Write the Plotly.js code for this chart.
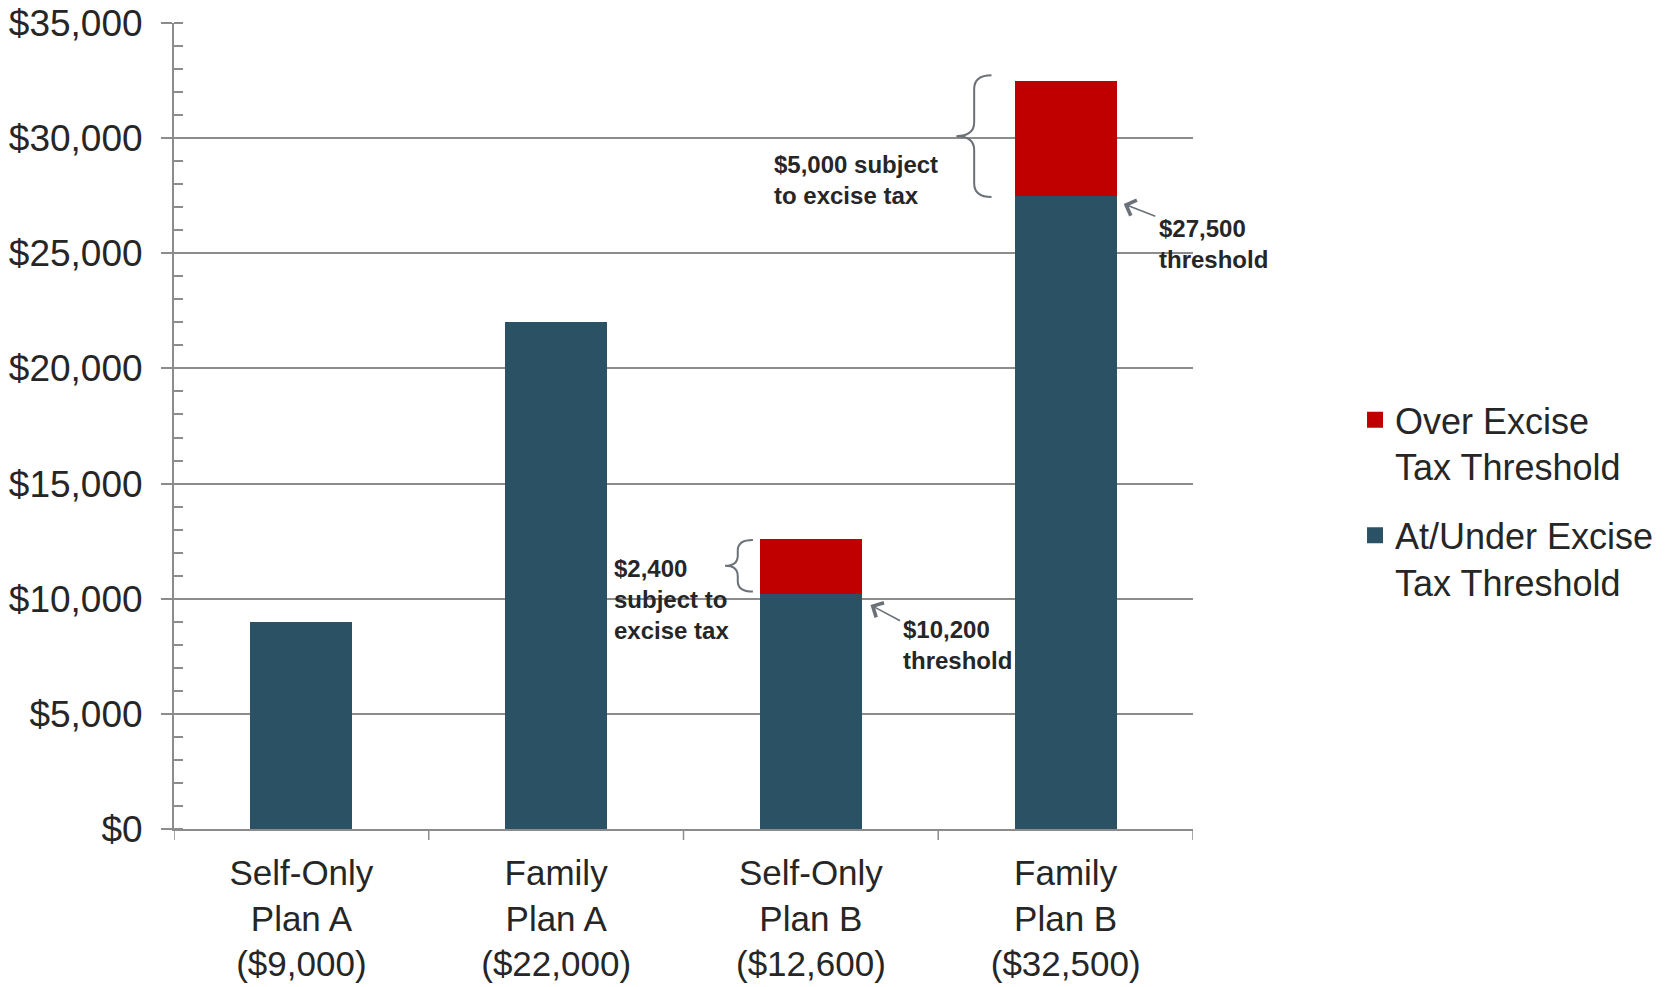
<!DOCTYPE html>
<html>
<head>
<meta charset="utf-8">
<script src="https://cdn.plot.ly/plotly-3.0.1.min.js"></script>
<style>
  html, body { margin: 0; padding: 0; background: #ffffff; }
  #chart { width: 1672px; height: 987px; }
</style>
</head>
<body>
<div id="chart"></div>
<script>
// ---- Data ----
const categories = ['Self-Only Plan A', 'Family Plan A', 'Self-Only Plan B', 'Family Plan B'];
const tickLabels = ['Self-Only<br>Plan A<br>($9,000)', 'Family<br>Plan A<br>($22,000)', 'Self-Only<br>Plan B<br>($12,600)', 'Family<br>Plan B<br>($32,500)'];
const atUnderThreshold = [9000, 22000, 10200, 27500];
const overThreshold = [0, 0, 2400, 5000];
const seriesNames = ['At/Under Excise<br>Tax Threshold', 'Over Excise<br>Tax Threshold'];
const yTickVals = [0, 5000, 10000, 15000, 20000, 25000, 30000, 35000];
const yTickText = yTickVals.map(v => '$' + v.toLocaleString('en-US'));

// ---- Styles ----
const FONT = 'Liberation Sans, Arial, sans-serif';
const TEXT = '#262626';
const GRID = '#8c8c8c';
const TEAL = '#2b5264';
const RED = '#c00000';
const NOTE = '#6b7178';

const idx = categories.map((_, i) => i);

const traces = [
  {
    type: 'bar', name: seriesNames[0], x: idx, y: atUnderThreshold,
    marker: { color: TEAL }, showlegend: false, hoverinfo: 'y'
  },
  {
    type: 'bar', name: seriesNames[1], x: idx, y: overThreshold,
    marker: { color: RED }, showlegend: false, hoverinfo: 'y'
  },
  // legend entries (no data of their own)
  {
    type: 'scatter', mode: 'markers', name: seriesNames[1], x: [null], y: [null],
    marker: { color: RED, symbol: 'square', size: 16 }, legendgroup: 'over', legendrank: 1, hoverinfo: 'skip'
  },
  {
    type: 'scatter', mode: 'markers', name: seriesNames[0], x: [null], y: [null],
    marker: { color: TEAL, symbol: 'square', size: 16 }, legendgroup: 'under', legendrank: 2, hoverinfo: 'skip'
  }
];

// curly brace (opening to the right, pointing left) in data coords
function brace(xTip, xVert, xEnd, yTop, yBot, ry) {
  const yMid = (yTop + yBot) / 2;
  return 'M' + xEnd + ',' + yTop +
    ' Q' + xVert + ',' + yTop + ' ' + xVert + ',' + (yTop - ry) +
    ' L' + xVert + ',' + (yMid + ry) +
    ' Q' + xVert + ',' + yMid + ' ' + xTip + ',' + yMid +
    ' Q' + xVert + ',' + yMid + ' ' + xVert + ',' + (yMid - ry) +
    ' L' + xVert + ',' + (yBot + ry) +
    ' Q' + xVert + ',' + yBot + ' ' + xEnd + ',' + yBot;
}

const top3 = atUnderThreshold[3] + overThreshold[3];
const top2 = atUnderThreshold[2] + overThreshold[2];

const shapes = [
  {
    type: 'path', xref: 'x', yref: 'y',
    path: brace(2.571, 2.641, 2.709, top3 + 230, atUnderThreshold[3] - 60, 600),
    line: { color: NOTE, width: 2 }
  },
  {
    type: 'path', xref: 'x', yref: 'y',
    path: brace(1.663, 1.713, 1.7725, top2 - 50, atUnderThreshold[2] + 110, 450),
    line: { color: NOTE, width: 2 }
  }
].concat([0, 1, 2, 3, 4].map(i => ({
  // category boundary ticks below the x axis
  type: 'line', xref: 'x', yref: 'paper', x0: i - 0.5, x1: i - 0.5,
  ysizemode: 'pixel', yanchor: 0, y0: -11, y1: 0,
  line: { color: GRID, width: 1.5 }
})));

const noteFont = { family: FONT, size: 24, color: TEXT };

const annotations = [
  {
    xref: 'x', yref: 'y', x: 1.849, y: 28200, xanchor: 'left', yanchor: 'middle', align: 'left',
    text: '<b>$' + overThreshold[3].toLocaleString('en-US') + ' subject<br>to excise tax</b>',
    showarrow: false, font: noteFont
  },
  {
    xref: 'x', yref: 'y', x: 3.359, y: atUnderThreshold[3] - 2080, xanchor: 'left', yanchor: 'middle', align: 'left',
    text: '<b>$' + atUnderThreshold[3].toLocaleString('en-US') + '<br>threshold</b>',
    showarrow: false, font: noteFont
  },
  {
    xref: 'x', yref: 'y', x: 1.220, y: 9950, xanchor: 'left', yanchor: 'middle', align: 'left',
    text: '<b>$' + overThreshold[2].toLocaleString('en-US') + '<br>subject to<br>excise tax</b>',
    showarrow: false, font: noteFont
  },
  {
    xref: 'x', yref: 'y', x: 2.352, y: atUnderThreshold[2] - 2200, xanchor: 'left', yanchor: 'middle', align: 'left',
    text: '<b>$' + atUnderThreshold[2].toLocaleString('en-US') + '<br>threshold</b>',
    showarrow: false, font: noteFont
  },
  {
    xref: 'x', yref: 'y', x: 3.228, y: atUnderThreshold[3] - 360,
    axref: 'x', ayref: 'y', ax: 3.358, ay: atUnderThreshold[3] - 920,
    text: '', showarrow: true, arrowhead: 4, arrowsize: 2, arrowwidth: 1.6, arrowcolor: NOTE
  },
  {
    xref: 'x', yref: 'y', x: 2.234, y: atUnderThreshold[2] - 470,
    axref: 'x', ayref: 'y', ax: 2.356, ay: atUnderThreshold[2] - 1190,
    text: '', showarrow: true, arrowhead: 4, arrowsize: 2, arrowwidth: 1.6, arrowcolor: NOTE
  }
];

const layout = {
  width: 1672, height: 987,
  margin: { l: 174, r: 479, t: 23, b: 158, pad: 0 },
  paper_bgcolor: '#ffffff', plot_bgcolor: '#ffffff',
  barmode: 'stack', bargap: 0.6,
  font: { family: FONT, color: TEXT, size: 36 },
  showlegend: true,
  legend: {
    x: 1.159, xanchor: 'left', y: 0.545, yanchor: 'top',
    traceorder: 'grouped', tracegroupgap: 19, valign: 'top',
    font: { family: FONT, size: 36, color: TEXT },
    bgcolor: 'rgba(0,0,0,0)', borderwidth: 0
  },
  xaxis: {
    type: 'linear', range: [-0.5, 3.5], tickmode: 'array', tickvals: idx, ticktext: tickLabels,
    showgrid: false, zeroline: false,
    showline: true, linecolor: GRID, linewidth: 2,
    ticks: '', tickfont: { family: FONT, size: 35, color: TEXT },
    ticklabelstandoff: 12,
    fixedrange: true
  },
  yaxis: {
    range: [0, 35000], tickmode: 'array', tickvals: yTickVals, ticktext: yTickText,
    showgrid: true, gridcolor: GRID, gridwidth: 1.5,
    zeroline: false, showline: true, linecolor: GRID, linewidth: 2,
    ticks: 'outside', ticklen: 11, tickcolor: GRID, tickwidth: 1.5,
    minor: { dtick: 1000, tick0: 0, ticks: 'inside', ticklen: 9, tickcolor: GRID, tickwidth: 1.5, showgrid: false },
    tickfont: { family: FONT, size: 37, color: TEXT },
    ticklabelstandoff: 11,
    fixedrange: true
  },
  shapes: shapes,
  annotations: annotations
};

Plotly.newPlot('chart', traces, layout, { displayModeBar: false, responsive: false });
</script>
</body>
</html>
